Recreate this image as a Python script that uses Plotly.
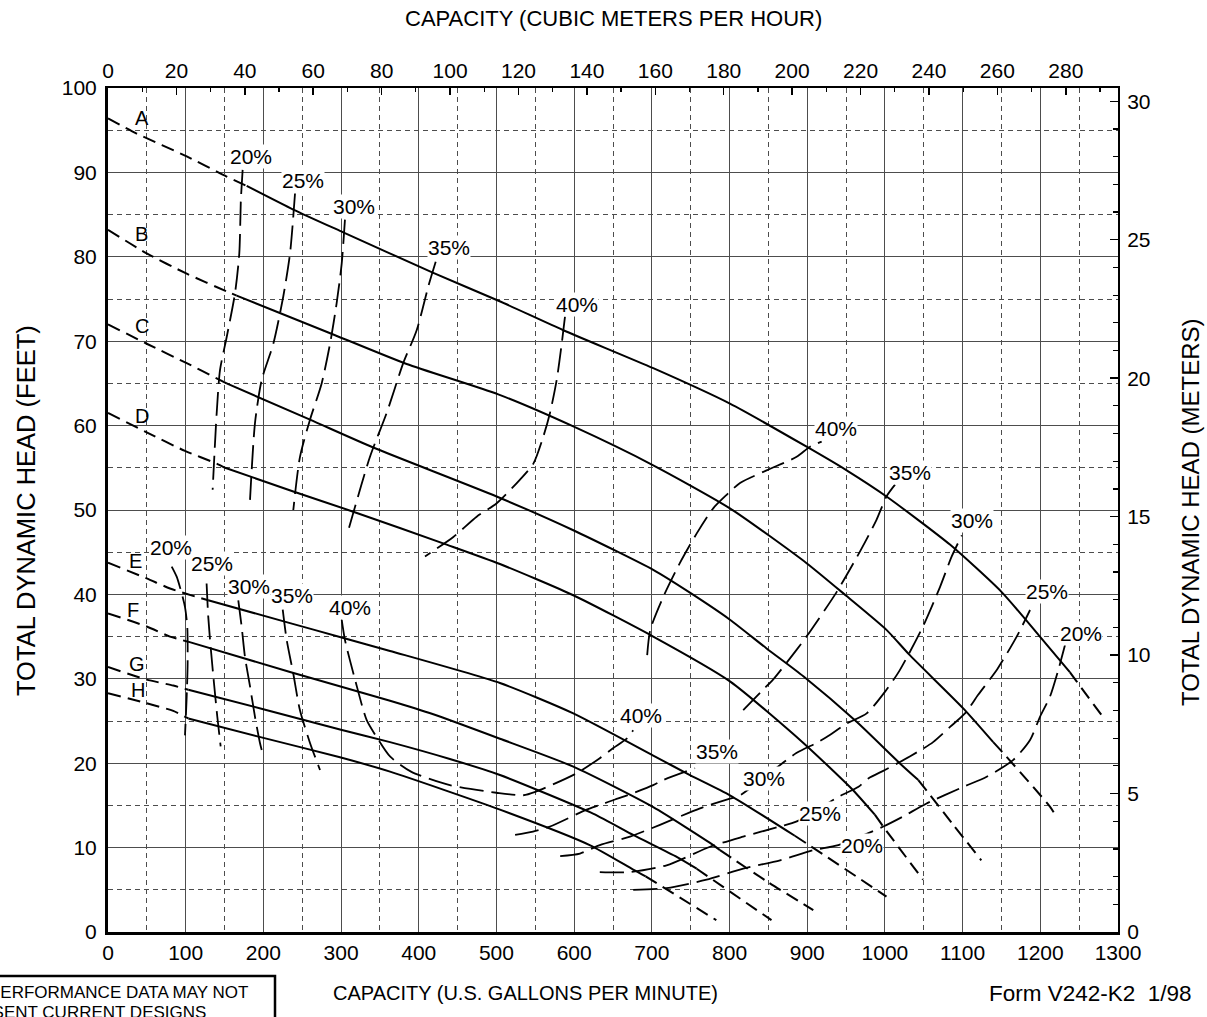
import plotly.graph_objects as go

# ---------------- unit conversions ----------------
GPM_TO_M3H = 0.2271247
FT_TO_M = 0.3048
GPM_MAX = 1300
FT_MAX = 100

# ---------------- impeller head curves (GPM, feet) ----------------
A_gpm = [0, 36.9, 101.3, 152.7, 178.5, 238.5, 302.8, 418.7, 504.9, 586, 701.8, 800.5, 899.2, 950.7, 1002, 1083.7, 1150, 1199.5, 1238, 1246.7, 1278.8]
A_ft = [96.4, 94.6, 91.9, 89.5, 88.4, 85.6, 82.9, 78.1, 74.7, 71.3, 66.8, 62.6, 57.5, 54.7, 51.6, 45.9, 40.3, 35.0, 30.8, 29.7, 25.7]
A_solid = [178.5, 1238]

B_gpm = [0, 49.8, 101.3, 152.7, 165.6, 290, 384.4, 502.3, 598.9, 701.8, 800.5, 899.2, 950.7, 1002, 1032, 1100.8, 1139.4, 1152.3, 1212.4, 1221]
B_ft = [83.2, 80.4, 78.0, 75.9, 75.4, 70.8, 67.3, 63.7, 59.9, 55.3, 50.2, 43.7, 39.8, 35.8, 32.8, 26.5, 22.5, 21.2, 14.85, 13.6]
B_solid = [165.6, 1139.4]

C_gpm = [0, 49.8, 101.3, 139.8, 152.7, 260, 341.4, 500.2, 598.9, 701.8, 749, 800.5, 847.7, 895, 963.6, 1019, 1043, 1088, 1124]
C_ft = [72.0, 69.7, 67.4, 65.6, 65.0, 60.7, 57.4, 51.6, 47.6, 42.9, 40.2, 37.0, 33.6, 30.3, 24.9, 20.0, 18.0, 12.7, 8.5]
C_solid = [152.7, 1043]

D_gpm = [0, 49.8, 99.1, 139.8, 150.6, 238.5, 315.7, 435.9, 504.5, 598.9, 701.8, 800.5, 895, 959, 987, 997.8, 1049]
D_ft = [61.5, 59.2, 57.0, 55.5, 55.0, 52.2, 49.8, 45.9, 43.6, 39.9, 35.0, 29.7, 22.4, 16.8, 13.9, 12.5, 6.2]
D_solid = [150.6, 987]

E_gpm = [0, 49.8, 79.8, 114, 129, 234.3, 300.7, 363, 504.5, 598.9, 701.8, 749, 800.5, 884, 899, 1002]
E_ft = [43.75, 41.9, 40.7, 39.7, 39.3, 36.6, 34.9, 33.3, 29.5, 25.9, 20.9, 18.6, 16.2, 11.4, 10.5, 4.2]
E_solid = [129, 884]

F_gpm = [0, 49.8, 79.8, 103, 234.3, 363, 418.7, 504.5, 598.9, 701.8, 779, 787.7, 848, 907.8]
F_ft = [37.75, 36.2, 35.0, 34.4, 30.8, 27.4, 25.8, 22.9, 19.6, 14.8, 10.3, 9.7, 6.0, 2.6]
F_solid = [103, 787.7]

G_gpm = [0, 49.8, 84, 103.4, 199.9, 298.6, 363, 440, 504.5, 625, 676, 732, 757.7, 854]
G_ft = [31.4, 29.9, 29.2, 28.7, 26.4, 24.0, 22.5, 20.5, 18.6, 14.0, 11.5, 8.9, 7.5, 1.4]
G_solid = [103.4, 757.7]

H_gpm = [0, 49.8, 84, 103.4, 200, 298.6, 363, 504.5, 620, 676, 692, 783]
H_ft = [28.3, 27.1, 26.2, 25.3, 23.0, 20.7, 19.0, 14.5, 10.3, 7.4, 6.6, 1.4]
H_solid = [103.4, 692]

IMPELLERS = ["A", "B", "C", "D", "E", "F", "G", "H"]
LETTER_GPM = [43.8, 43.3, 43.3, 43.3, 34.8, 32.6, 37, 39]
LETTER_FT = [96.4, 82.7, 71.8, 61.1, 43.9, 38.2, 31.8, 28.7]

# ---------------- efficiency curves (GPM, feet) ----------------
# upper impeller group
E20U_gpm = [173.3, 171, 169, 163.5, 152.8, 144.2, 139.9, 134.7]
E20U_ft = [90.3, 86.7, 80.4, 75.7, 70.5, 66.6, 61.5, 52.4]
E25U_gpm = [240.7, 234.3, 225.6, 212.8, 197.8, 189.2, 182.8]
E25U_ft = [87.5, 80.4, 75.3, 69.7, 65.4, 60.3, 51.2]
E30U_gpm = [305, 300.8, 294.3, 285.8, 275, 260, 247.1, 238.5]
E30U_ft = [84.4, 79.2, 74.5, 69.7, 65.0, 60.7, 56.3, 50.0]
E35U_gpm = [421.8, 412.3, 397.3, 380, 358.7, 337.2, 309.3]
E35U_ft = [79.4, 76.5, 71.3, 67.4, 61.5, 56.3, 47.6]
E40U_gpm = [588.2, 584, 577.5, 568.9, 560.3, 547.5, 530.3, 500.3, 474.5, 444.5, 408]
E40U_ft = [72.9, 69.7, 65.4, 61.5, 58.7, 55.5, 53.6, 50.8, 49.2, 46.8, 44.5]
E40R_gpm = [694, 698, 714.7, 736, 757.6, 779, 796.3, 813.5, 847.7, 886.4, 903.6, 918.6]
E40R_ft = [32.8, 35.8, 39.7, 43.7, 47.2, 50.2, 51.8, 53.2, 54.7, 56.3, 57.5, 58.1]
E35R_gpm = [817.6, 843, 856, 886, 899, 938, 968, 989, 1002, 1013]
E35R_ft = [26.3, 28.7, 29.9, 33.4, 35.0, 40.3, 45.1, 48.8, 51.6, 53.0]
# curves running from the lower group up to the upper right
E30X_gpm = [582, 607.5, 633, 672, 710.5, 762, 800.5, 813.5, 886, 912, 925, 951, 976.5, 1002, 1019, 1049, 1071, 1086, 1099]
E30X_ft = [9.0, 9.3, 10.3, 11.3, 12.7, 14.65, 15.8, 16.2, 21.2, 22.4, 23.1, 24.7, 25.9, 28.7, 31.0, 36.2, 40.9, 44.5, 47.0]
E25X_gpm = [633, 672, 719, 775, 817.6, 865, 886.6, 942, 966, 978.6, 1000, 1032, 1062, 1083.8, 1103, 1120, 1145, 1169.6, 1186.8]
E25X_ft = [7.1, 7.1, 7.9, 10.1, 11.3, 12.5, 13.1, 16.1, 17.2, 18.2, 19.2, 20.8, 22.5, 24.3, 25.9, 28.1, 31.2, 35.0, 38.15]
E20X_gpm = [676, 719, 770.5, 817.6, 865, 907.8, 940, 998, 1023.7, 1053, 1101, 1131, 1165.3, 1186.8, 1199.6, 1212.5, 1223, 1231.8]
E20X_ft = [5.0, 5.2, 6.2, 7.5, 8.5, 9.7, 10.3, 12.5, 13.7, 15.2, 17.2, 18.4, 20.4, 22.75, 25.5, 27.9, 31.0, 34.0]
# lower impeller group
E20L_gpm = [82, 88.4, 94.9, 99.1, 102, 102.5, 101.3, 99.1]
E20L_ft = [43.3, 42.1, 40.1, 38.5, 36.2, 31.8, 27.9, 23.3]
E25L_gpm = [126.9, 129, 132.1, 136.4, 140.7, 145]
E25L_ft = [41.3, 37.4, 33.8, 29.5, 25.5, 22.0]
E30L_gpm = [167.7, 172, 176.3, 182.8, 189.2, 195.6, 200]
E30L_ft = [39.3, 36.2, 32.6, 29.1, 25.5, 22.4, 20.8]
E35L_gpm = [224.9, 230, 238.5, 247, 260, 272.9]
E35L_ft = [38.2, 34.6, 30.6, 26.3, 22.4, 19.2]
E35M_gpm = [524, 547, 569, 616, 633, 652.6, 665.5, 701.8, 714.6, 755.6]
E35M_ft = [11.5, 11.9, 12.5, 14.5, 15.05, 15.7, 16.1, 17.4, 18.0, 19.4]
E40L_gpm = [300.8, 305, 318, 333, 345.8, 363, 390, 440, 500, 534.6, 550, 603, 633, 650.4, 667.6, 676]
E40L_ft = [37.0, 34.6, 29.9, 25.1, 23.1, 20.8, 19.0, 17.4, 16.5, 16.2, 16.6, 18.8, 20.6, 21.8, 22.9, 23.9]

EFF_SEGMENTS = [
    (E20U_gpm, E20U_ft), (E25U_gpm, E25U_ft), (E30U_gpm, E30U_ft), (E35U_gpm, E35U_ft),
    (E40U_gpm, E40U_ft), (E40R_gpm, E40R_ft), (E35R_gpm, E35R_ft),
    (E30X_gpm, E30X_ft), (E25X_gpm, E25X_ft), (E20X_gpm, E20X_ft),
    (E20L_gpm, E20L_ft), (E25L_gpm, E25L_ft), (E30L_gpm, E30L_ft), (E35L_gpm, E35L_ft),
    (E35M_gpm, E35M_ft), (E40L_gpm, E40L_ft),
]

PCT_TEXT = ["20%", "25%", "30%", "35%", "40%", "40%", "35%", "30%", "25%", "20%",
            "20%", "25%", "30%", "35%", "40%", "40%", "35%", "30%", "25%", "20%"]
PCT_GPM = [184, 251, 316.6, 439, 603.7, 937, 1032, 1112, 1208.6, 1252,
           81, 134, 181.5, 237, 311.5, 686, 784, 844, 916.5, 970]
PCT_FT = [91.9, 89.0, 86.0, 81.1, 74.3, 59.7, 54.4, 48.7, 40.3, 35.4,
          45.6, 43.7, 40.9, 39.9, 38.4, 25.7, 21.4, 18.2, 14.1, 10.3]

# ---------------- styling ----------------
FONT = "Liberation Sans, Arial, sans-serif"
GRID = "#4d4d4d"
L_PX, R_PX, T_PX, B_PX = 108, 1118, 88, 932


def px_x(px):
    return (px - L_PX) / (R_PX - L_PX)


def px_y(py):
    return (B_PX - py) / (B_PX - T_PX)


fig = go.Figure()

curves = {"A": (A_gpm, A_ft, A_solid), "B": (B_gpm, B_ft, B_solid), "C": (C_gpm, C_ft, C_solid),
          "D": (D_gpm, D_ft, D_solid), "E": (E_gpm, E_ft, E_solid), "F": (F_gpm, F_ft, F_solid),
          "G": (G_gpm, G_ft, G_solid), "H": (H_gpm, H_ft, H_solid)}

for name in IMPELLERS:
    g, f, (lo, hi) = curves[name]
    lead = [(a, b) for a, b in zip(g, f) if a <= lo]
    solid = [(a, b) for a, b in zip(g, f) if lo <= a <= hi]
    tail = [(a, b) for a, b in zip(g, f) if a >= hi]
    for seg, dash in ((lead, "13px,7px"), (solid, "solid"), (tail, "13px,7px")):
        if len(seg) < 2:
            continue
        fig.add_trace(go.Scatter(
            x=[p[0] for p in seg], y=[p[1] for p in seg], mode="lines",
            line=dict(color="black", width=2, dash=dash, shape="spline", smoothing=0.6),
            hoverinfo="skip", showlegend=False))

for g, f in EFF_SEGMENTS:
    fig.add_trace(go.Scatter(
        x=g, y=f, mode="lines",
        line=dict(color="black", width=1.8, dash="24px,8px", shape="spline", smoothing=0.7),
        hoverinfo="skip", showlegend=False))

# dummy trace so the secondary (metric) axes are drawn
fig.add_trace(go.Scatter(x=[], y=[], xaxis="x2", yaxis="y2", showlegend=False, hoverinfo="skip"))

annotations = []
for t, x, y in zip(PCT_TEXT, PCT_GPM, PCT_FT):
    annotations.append(dict(x=x, y=y, xref="x", yref="y", text=t, showarrow=False,
                            font=dict(family=FONT, size=21, color="black"),
                            bgcolor="white", borderpad=0, xanchor="center", yanchor="middle"))
for t, x, y in zip(IMPELLERS, LETTER_GPM, LETTER_FT):
    annotations.append(dict(x=x, y=y, xref="x", yref="y", text=t, showarrow=False,
                            font=dict(family=FONT, size=20, color="black"),
                            xanchor="center", yanchor="middle"))

annotations += [
    dict(x=px_x(613), y=px_y(19), xref="paper", yref="paper", text="CAPACITY (CUBIC METERS PER HOUR)",
         showarrow=False, font=dict(family=FONT, size=22, color="black"), xanchor="center", yanchor="middle"),
    dict(x=px_x(26), y=px_y(511), xref="paper", yref="paper", text="TOTAL DYNAMIC HEAD (FEET)",
         textangle=-90, showarrow=False, font=dict(family=FONT, size=25.5, color="black"),
         xanchor="center", yanchor="middle"),
    dict(x=px_x(1190), y=px_y(512), xref="paper", yref="paper", text="TOTAL DYNAMIC HEAD (METERS)",
         textangle=-90, showarrow=False, font=dict(family=FONT, size=24, color="black"),
         xanchor="center", yanchor="middle"),
    dict(x=px_x(525), y=px_y(993), xref="paper", yref="paper", text="CAPACITY (U.S. GALLONS PER MINUTE)",
         showarrow=False, font=dict(family=FONT, size=20, color="black"), xanchor="center", yanchor="middle"),
    dict(x=px_x(1090), y=px_y(993), xref="paper", yref="paper", text="Form V242-K2&nbsp;&nbsp;1/98",
         showarrow=False, font=dict(family=FONT, size=22.5, color="black"), xanchor="center", yanchor="middle"),
    dict(x=px_x(-13), y=px_y(992), xref="paper", yref="paper", text="PERFORMANCE DATA MAY NOT",
         showarrow=False, font=dict(family=FONT, size=17, color="black"), xanchor="left", yanchor="middle"),
    dict(x=px_x(-68), y=px_y(1013), xref="paper", yref="paper", text="REPRESENT CURRENT DESIGNS",
         showarrow=False, font=dict(family=FONT, size=17, color="black"), xanchor="left", yanchor="middle"),
]

shapes = [dict(type="rect", xref="paper", yref="paper", x0=px_x(-30), x1=px_x(275),
               y0=px_y(1060), y1=px_y(976), line=dict(color="black", width=2.5), fillcolor="rgba(0,0,0,0)")]

fig.update_layout(
    width=1207, height=1017,
    margin=dict(l=L_PX, r=1207 - R_PX, t=T_PX, b=1017 - B_PX, pad=0),
    plot_bgcolor="white", paper_bgcolor="white", showlegend=False,
    font=dict(family=FONT, color="black", size=21),
    annotations=annotations, shapes=shapes,
    xaxis=dict(range=[0, GPM_MAX], tick0=0, dtick=100, showgrid=True, gridcolor=GRID, gridwidth=1,
               minor=dict(dtick=50, tick0=0, showgrid=True, gridcolor=GRID, gridwidth=1, griddash="5px,4px"),
               showline=True, linecolor="black", linewidth=3, ticks="", zeroline=False,
               tickfont=dict(family=FONT, size=21, color="black"), ticklabelstandoff=0),
    yaxis=dict(range=[0, FT_MAX], tick0=0, dtick=10, showgrid=True, gridcolor=GRID, gridwidth=1,
               minor=dict(dtick=5, tick0=0, showgrid=True, gridcolor=GRID, gridwidth=1, griddash="5px,4px"),
               showline=True, linecolor="black", linewidth=3, ticks="", zeroline=False,
               tickfont=dict(family=FONT, size=21, color="black"), ticklabelstandoff=4),
    xaxis2=dict(overlaying="x", side="top", range=[0, GPM_MAX * GPM_TO_M3H], tick0=0, dtick=20,
                ticks="inside", ticklen=7, tickwidth=1.5, tickcolor="black",
                minor=dict(dtick=10, tick0=0, ticks="inside", ticklen=4, tickwidth=1.2, tickcolor="black", showgrid=False),
                showgrid=False, zeroline=False, showline=True, linecolor="black", linewidth=2,
                tickfont=dict(family=FONT, size=21, color="black"), ticklabelstandoff=0),
    yaxis2=dict(overlaying="y", side="right", range=[0, FT_MAX * FT_TO_M], tick0=0, dtick=5,
                ticks="inside", ticklen=8, tickwidth=1.5, tickcolor="black",
                minor=dict(dtick=1, tick0=0, ticks="inside", ticklen=5, tickwidth=1.2, tickcolor="black", showgrid=False),
                showgrid=False, zeroline=False, showline=True, linecolor="black", linewidth=2,
                tickfont=dict(family=FONT, size=21, color="black"), ticklabelstandoff=3),
)

fig.write_html("out.html", config={"displayModeBar": False, "staticPlot": True},
               post_script="document.body.style.margin='0';document.body.style.overflow='hidden';")
